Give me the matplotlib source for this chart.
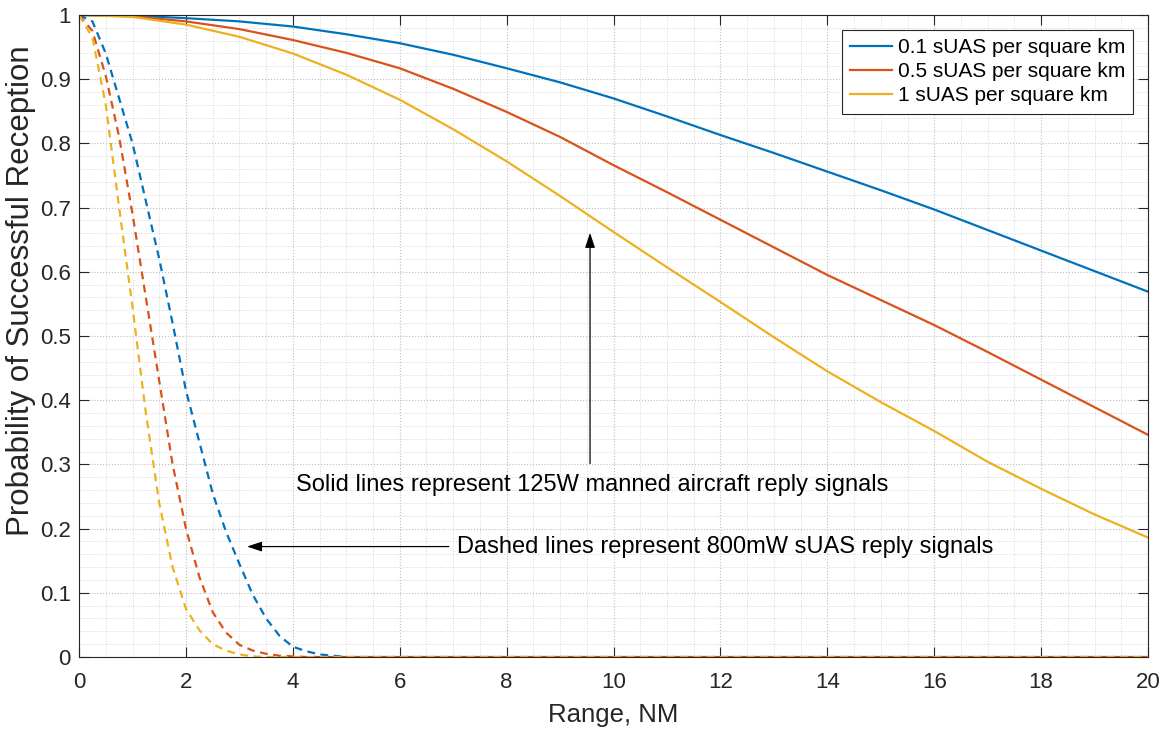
import matplotlib
matplotlib.use("Agg")
import matplotlib.pyplot as plt
from matplotlib.ticker import MultipleLocator

plt.rcParams["font.family"] = ["Liberation Sans", "DejaVu Sans"]

# solid lines: 125W manned aircraft reply signals
range_solid = [0, 1, 2, 3, 4, 5, 6, 7, 8, 9, 10, 11, 12, 13, 14, 15, 16, 17, 18, 19, 20]
solid_01 = [1.0, 0.999, 0.995, 0.99, 0.982, 0.97, 0.956, 0.938, 0.917, 0.895, 0.870,
            0.842, 0.813, 0.785, 0.756, 0.727, 0.697, 0.665, 0.633, 0.601, 0.569]
solid_05 = [1.0, 0.998, 0.99, 0.978, 0.961, 0.941, 0.917, 0.885, 0.849, 0.81, 0.766,
            0.724, 0.681, 0.638, 0.595, 0.556, 0.517, 0.475, 0.432, 0.389, 0.346]
solid_1 = [1.0, 0.997, 0.985, 0.966, 0.940, 0.907, 0.868, 0.822, 0.772, 0.718, 0.662,
           0.607, 0.553, 0.498, 0.445, 0.397, 0.352, 0.304, 0.262, 0.222, 0.186]

# dashed lines: 800mW sUAS reply signals
range_dashed = [0, 0.25, 0.5, 0.75, 1.0, 1.25, 1.5, 1.75, 2.0, 2.25, 2.5, 2.75, 3.0,
                3.25, 3.5, 3.75, 4.0, 4.25, 4.5, 4.75, 5.0, 6, 8, 10, 12, 14, 16, 18, 20]
dashed_01 = [1.0, 0.99, 0.94, 0.87, 0.80, 0.71, 0.62, 0.52, 0.415, 0.335, 0.255, 0.195, 0.145,
             0.097, 0.06, 0.033, 0.016, 0.009, 0.004, 0.002, 0, 0, 0, 0, 0, 0, 0, 0, 0]
dashed_05 = [1.0, 0.975, 0.905, 0.81, 0.69, 0.56, 0.43, 0.30, 0.20, 0.125, 0.07, 0.038, 0.019,
             0.01, 0.005, 0.002, 0.001, 0, 0, 0, 0, 0, 0, 0, 0, 0, 0, 0, 0]
dashed_1 = [1.0, 0.965, 0.86, 0.70, 0.545, 0.38, 0.24, 0.14, 0.075, 0.042, 0.02, 0.01, 0.004,
            0.001, 0, 0, 0, 0, 0, 0, 0, 0, 0, 0, 0, 0, 0, 0, 0]

labels = ["0.1 sUAS per square km", "0.5 sUAS per square km", "1 sUAS per square km"]
colors = ["#0072BD", "#D95319", "#EDB120"]

fig = plt.figure(figsize=(11.66, 7.3), dpi=100)
ax = fig.add_axes([0.0678, 0.1, 0.9168, 0.8795])

for ys, c, lab in zip([solid_01, solid_05, solid_1], colors, labels):
    ax.plot(range_solid, ys, color=c, lw=1.6, label=lab)
for ys, c in zip([dashed_01, dashed_05, dashed_1], colors):
    ax.plot(range_dashed, ys, color=c, lw=1.6, ls=(0, (3.5, 2.5)))

ax.set_xlim(0, 20)
ax.set_ylim(0, 1)
ax.xaxis.set_major_locator(MultipleLocator(2))
ax.xaxis.set_minor_locator(MultipleLocator(0.5))
ax.yaxis.set_minor_locator(MultipleLocator(0.02))
ax.set_yticks([i / 10 for i in range(11)])
ax.set_yticklabels(["0", "0.1", "0.2", "0.3", "0.4", "0.5", "0.6", "0.7", "0.8", "0.9", "1"])

ax.grid(True, which="major", ls=":", color="#bdbdbd", lw=0.8)
ax.grid(True, which="minor", ls=":", color="#d6d6d6", lw=0.7)
ax.set_axisbelow(True)
ax.tick_params(which="major", direction="in", length=7, width=0.8, top=True, right=True,
               color="#262626", labelcolor="#262626", labelsize=16)
ax.tick_params(axis="x", which="major", pad=11)
ax.tick_params(axis="y", which="major", pad=6)
ax.tick_params(which="minor", length=0, top=True, right=True)
for sp in ax.spines.values():
    sp.set_color("#262626")
    sp.set_linewidth(0.8)

ax.set_xlabel("Range, NM", fontsize=18.5, color="#262626", labelpad=7)
ax.set_ylabel("Probability of Successful Reception", fontsize=22.5, color="#262626")
ax.yaxis.set_label_coords(-0.040, 0.57)

leg = ax.legend(loc="upper right", fontsize=15, handlelength=2.0, handletextpad=0.3,
                borderaxespad=0.7, fancybox=False, framealpha=1, labelspacing=0.25,
                borderpad=0.4)
leg.get_frame().set_edgecolor("#262626")
leg.get_frame().set_linewidth(0.8)

ax.annotate("", xy=(9.56, 0.665), xytext=(9.56, 0.297),
            arrowprops=dict(arrowstyle="-|>,head_length=0.9,head_width=0.3", color="black", lw=0.9))
ax.text(9.6, 0.268, "Solid lines represent 125W manned aircraft reply signals",
        ha="center", va="center", fontsize=17)
ax.annotate("", xy=(3.09, 0.172), xytext=(6.97, 0.172),
            arrowprops=dict(arrowstyle="-|>,head_length=0.9,head_width=0.3", color="black", lw=0.9))
ax.text(7.07, 0.171, "Dashed lines represent 800mW sUAS reply signals",
        ha="left", va="center", fontsize=17)

fig.savefig("out.png", dpi=100)
